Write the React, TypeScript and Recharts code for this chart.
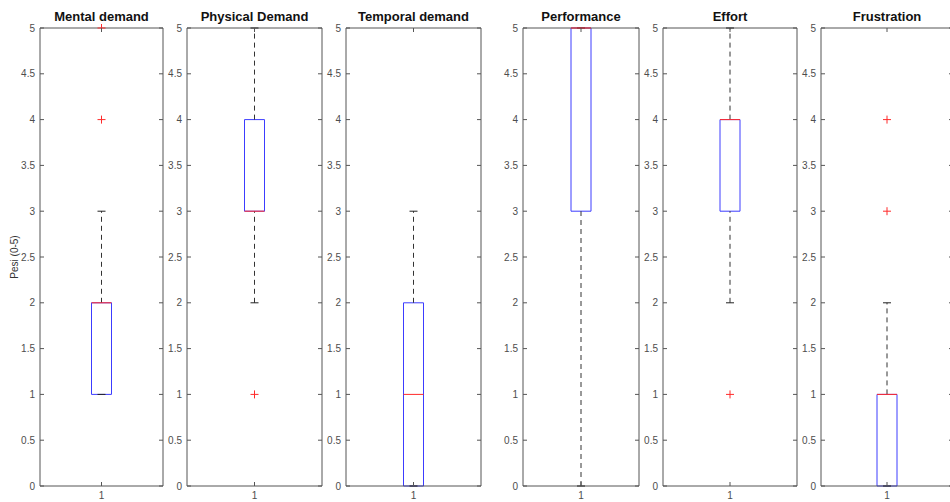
import React from "react";
import {
  ComposedChart,
  Bar,
  Scatter,
  XAxis,
  YAxis,
  ReferenceLine,
} from "recharts";

const categories = [
  "Mental demand",
  "Physical Demand",
  "Temporal demand",
  "Performance",
  "Effort",
  "Frustration",
];
const q1 = [1, 3, 0, 3, 3, 0];
const medians = [2, 3, 1, 5, 4, 1];
const q3 = [2, 4, 2, 5, 4, 1];
const whiskerLow = [1, 2, 0, 0, 2, 0];
const whiskerHigh = [3, 5, 3, 5, 5, 2];
const outliers = [[4, 5], [1], [], [], [1], [3, 4]];
const yTicks = [0, 0.5, 1, 1.5, 2, 2.5, 3, 3.5, 4, 4.5, 5];
const xTicks = [1];

// plot area edges (px) of each subplot
const panels = [
  { left: 40, right: 163 },
  { left: 187, right: 322 },
  { left: 346, right: 481 },
  { left: 523, right: 639 },
  { left: 663, right: 797 },
  { left: 821, right: 953 },
];

const AXIS = "#555";
const TEXT = "#4d4d4d";
const BLUE = "#3c3cff";
const RED = "#ff2a2a";
const FONT = "'Liberation Sans', Arial, Helvetica, sans-serif";
const TICK = 4;

const Plus = (props: any) => {
  const { cx, cy } = props;
  return (
    <g stroke={RED} strokeWidth={1}>
      <line x1={cx - 4} x2={cx + 4} y1={cy} y2={cy} />
      <line x1={cx} x2={cx} y1={cy - 4} y2={cy + 4} />
    </g>
  );
};

const Cap = (props: any) => {
  const { cx, cy } = props;
  return <line x1={cx - 4} x2={cx + 4} y1={cy} y2={cy} stroke="#222" strokeWidth={1} />;
};

const Median = (props: any) => {
  const { cx, cy } = props;
  return <line x1={cx - 10} x2={cx + 10} y1={cy} y2={cy} stroke={RED} strokeWidth={1} />;
};

// MATLAB style: tick marks inside the box on both sides, labels outside on the left
const LeftTick = (props: any) => {
  const { x, y, payload, plotW } = props;
  const ax = x + 5;
  return (
    <g>
      <line x1={ax} x2={ax + TICK} y1={y} y2={y} stroke={AXIS} />
      <line x1={ax + plotW - TICK} x2={ax + plotW} y1={y} y2={y} stroke={AXIS} />
      <text x={x} y={y} dy="0.355em" textAnchor="end" fontSize={10} fill={TEXT} fontFamily={FONT}>
        {payload.value}
      </text>
    </g>
  );
};

const BottomTick = (props: any) => {
  const { x, y, payload } = props;
  return (
    <g>
      <line x1={x} x2={x} y1={y - 6} y2={y - 6 - TICK} stroke={AXIS} />
      <text x={x} y={y} dy="0.71em" textAnchor="middle" fontSize={10} fill={TEXT} fontFamily={FONT}>
        {payload.value}
      </text>
    </g>
  );
};

const TopTick = (props: any) => {
  const { x, y } = props;
  return <line x1={x} x2={x} y1={y} y2={y + TICK} stroke={AXIS} />;
};

const NoTick = () => <g />;

const YTitle = (props: any) => {
  const vb = props.viewBox || {};
  const x = (vb.x || 0) + 15;
  const y = (vb.y || 0) + (vb.height || 0) / 2;
  return (
    <text
      x={x}
      y={y}
      transform={`rotate(-90, ${x}, ${y})`}
      textAnchor="middle"
      dominantBaseline="middle"
      fontSize={10}
      fill="#333"
      fontFamily={FONT}
    >
      Pesi (0-5)
    </text>
  );
};

const Panel = ({ i }: { i: number }) => {
  const p = panels[i];
  const plotW = p.right - p.left;
  const w = plotW + 50;
  const data = [{ x: 1, box: [q1[i], q3[i]] }];
  const caps = [
    { x: 1, y: whiskerLow[i] },
    { x: 1, y: whiskerHigh[i] },
  ];
  const med = [{ x: 1, y: medians[i] }];
  const outs = outliers[i].map((v) => ({ x: 1, y: v }));
  return (
    <div
      style={{ position: "absolute", left: p.left - 40, top: 0, width: w, height: 502 }}
    >
      <ComposedChart
        width={w}
        height={502}
        data={data}
        margin={{ top: 27, right: 9, bottom: 0, left: 0 }}
      >
        <XAxis
          xAxisId={0}
          dataKey="x"
          type="number"
          domain={[0.5, 1.5]}
          ticks={xTicks}
          interval={0}
          height={16}
          tickSize={0}
          tickMargin={6}
          tickLine={false}
          stroke={AXIS}
          tick={BottomTick}
        />
        <XAxis
          xAxisId="top"
          orientation="top"
          type="number"
          domain={[0.5, 1.5]}
          ticks={xTicks}
          interval={0}
          height={1}
          tickSize={0}
          tickMargin={0}
          tickLine={false}
          tick={TopTick}
          stroke={AXIS}
          label={{
            value: categories[i],
            position: "top",
            offset: 6,
            fontSize: 13,
            fontWeight: "bold",
            fill: "#111",
            fontFamily: FONT,
          }}
        />
        <YAxis
          yAxisId={0}
          dataKey="y"
          type="number"
          domain={[0, 5]}
          ticks={yTicks}
          interval={0}
          width={40}
          tickSize={0}
          tickMargin={5}
          tickLine={false}
          stroke={AXIS}
          tick={(t: any) => <LeftTick {...t} plotW={plotW} />}
          label={i === 0 ? YTitle : undefined}
        />
        <YAxis
          yAxisId="r"
          orientation="right"
          type="number"
          domain={[0, 5]}
          ticks={yTicks}
          width={1}
          tickSize={0}
          tickLine={false}
          tick={NoTick}
          stroke={AXIS}
        />
        {whiskerHigh[i] > q3[i] && (
          <ReferenceLine
            segment={[
              { x: 1, y: q3[i] },
              { x: 1, y: whiskerHigh[i] },
            ]}
            stroke="#333"
            strokeDasharray="5 4"
          />
        )}
        {whiskerLow[i] < q1[i] && (
          <ReferenceLine
            segment={[
              { x: 1, y: whiskerLow[i] },
              { x: 1, y: q1[i] },
            ]}
            stroke="#333"
            strokeDasharray="5 4"
          />
        )}
        <Scatter data={caps} shape={Cap} isAnimationActive={false} />
        <Bar
          dataKey="box"
          barSize={20}
          fill="none"
          stroke={BLUE}
          strokeWidth={1}
          isAnimationActive={false}
        />
        <Scatter data={med} shape={Median} isAnimationActive={false} />
        {outs.length > 0 && (
          <Scatter data={outs} shape={Plus} isAnimationActive={false} />
        )}
      </ComposedChart>
    </div>
  );
};

export default function App() {
  return (
    <div
      style={{
        position: "fixed",
        left: 0,
        top: 0,
        width: 950,
        height: 502,
        overflow: "hidden",
        background: "#fff",
      }}
    >
      {categories.map((c, i) => (
        <Panel key={c} i={i} />
      ))}
    </div>
  );
}
